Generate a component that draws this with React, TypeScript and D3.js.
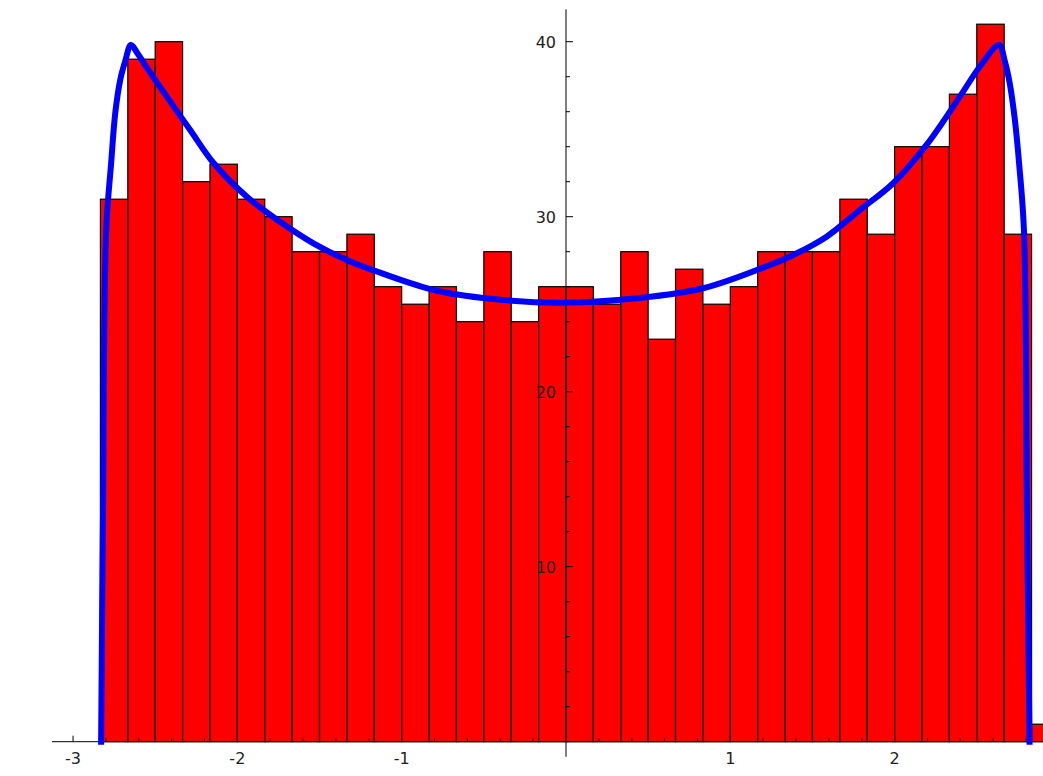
import React from 'react';
import * as d3 from 'd3';

// histogram counts, bins of width 1/6 starting at -17/6
const binStart = -17 / 6;
const binWidth = 1 / 6;
const counts = [
  31, 39, 40, 32, 33, 31, 30, 28, 28, 29, 26, 25, 26, 24, 28, 24, 26, 26,
  25, 28, 23, 27, 25, 26, 28, 28, 28, 31, 29, 34, 34, 37, 41, 29, 1,
];

// fitted curve
const curveX = [
  -2.829, -2.818, -2.798, -2.768, -2.743, -2.713, -2.682, -2.648, -2.605,
  -2.55, -2.429, -2.287, -2.145, -1.942, -1.74, -1.537, -1.334, -1.131,
  -0.786, -0.381, 0, 0.43, 0.835, 1.241, 1.383, 1.586, 1.788, 1.991, 2.194,
  2.397, 2.518, 2.636, 2.67, 2.701, 2.731, 2.758, 2.787, 2.806, 2.821,
];
const curveY = [
  0, 12.67, 29.24, 33.07, 35.93, 37.81, 38.9, 39.81, 39.3, 38.5, 36.86,
  34.95, 33.07, 31.14, 29.71, 28.48, 27.53, 26.8, 25.77, 25.24, 25.09, 25.34,
  25.91, 27.24, 27.81, 28.86, 30.38, 31.91, 34.1, 36.86, 38.57, 39.81, 38.9,
  37.6, 35.6, 33.0, 29.24, 12.67, 0,
];

const xTicks = [-3, -2, -1, 1, 2];
const yTicks = [10, 20, 30, 40];

const width = 1043;
const height = 776;

export default function App() {
  const x = d3.scaleLinear().domain([-3.128, 2.903]).range([52, 1043]);
  const y = d3.scaleLinear().domain([0, 40]).range([741.7, 41.7]);

  const line = d3
    .line<number>()
    .x((d) => x(d))
    .y((d, i) => y(curveY[i]))
    .curve(d3.curveCatmullRom.alpha(0.5));

  const minorX = d3.range(-3, 3.01, 0.2).filter((v) => Math.abs(v - Math.round(v)) > 0.01);
  const minorY = d3.range(2, 42, 2).filter((v) => v % 10 !== 0);
  const x0 = x(0);
  const y0 = y(0);
  const font = { fontFamily: 'DejaVu Sans', fontSize: 16, fill: '#222' };

  return (
    <svg
      width={width}
      height={height}
      style={{ position: 'absolute', left: 0, top: 0, background: '#fff' }}
    >
      {/* bars */}
      <g>
        {counts.map((c, i) => {
          const a = binStart + i * binWidth;
          return (
            <rect
              key={i}
              x={x(a)}
              y={y(c)}
              width={x(a + binWidth) - x(a)}
              height={y0 - y(c)}
              fill="#ff0000"
              stroke="#000"
              strokeWidth={1.2}
            />
          );
        })}
      </g>

      {/* axes */}
      <g stroke="#000" strokeWidth={1}>
        <line x1={52} x2={1043} y1={y0} y2={y0} />
        <line x1={x0} x2={x0} y1={y(41.85)} y2={y(-0.86)} />
        {xTicks.map((t) => (
          <line key={t} x1={x(t)} x2={x(t)} y1={y0} y2={y0 - 6} />
        ))}
        {minorX.map((t) => (
          <line key={'m' + t} x1={x(t)} x2={x(t)} y1={y0} y2={y0 - 3.5} />
        ))}
        {yTicks.map((t) => (
          <line key={t} x1={x0} x2={x0 + 7} y1={y(t)} y2={y(t)} />
        ))}
        {minorY.map((t) => (
          <line key={'m' + t} x1={x0} x2={x0 + 4} y1={y(t)} y2={y(t)} />
        ))}
      </g>
      <g style={font}>
        {xTicks.map((t) => (
          <text key={t} x={x(t)} y={764} textAnchor="middle">
            {t < 0 ? '-' + Math.abs(t) : t}
          </text>
        ))}
        {yTicks.map((t) => (
          <text key={t} x={x0 - 10} y={y(t) + 5.8} textAnchor="end">
            {t}
          </text>
        ))}
      </g>

      {/* fitted curve */}
      <path
        d={line(curveX) || ''}
        fill="none"
        stroke="#0000ff"
        strokeWidth={6}
        strokeLinecap="square"
        strokeLinejoin="round"
      />
    </svg>
  );
}
